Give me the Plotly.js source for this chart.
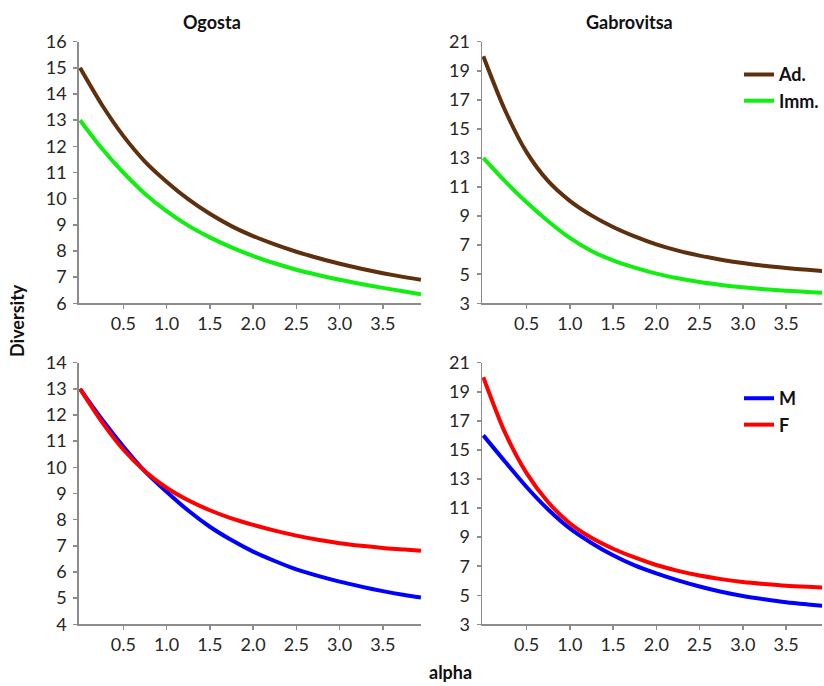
<!DOCTYPE html>
<html>
<head>
<meta charset="utf-8">
<script src="https://cdn.plot.ly/plotly-3.0.1.min.js"></script>
<style>html,body{margin:0;padding:0;background:#fff;}#chart{width:824px;height:686px;}</style>
</head>
<body>
<div id="chart"></div>
<script>
// alpha values (x)
const alpha = [0, 0.25, 0.5, 0.75, 1, 1.25, 1.5, 1.75, 2, 2.25, 2.5, 2.75, 3, 3.25, 3.5, 3.75, 3.94];
const xTickVals = [0.5, 1.0, 1.5, 2.0, 2.5, 3.0, 3.5];

// Ogosta: adults / immatures
const ogostaAd  = [15.0, 13.6, 12.4, 11.42, 10.65, 9.98, 9.42, 8.95, 8.57, 8.25, 7.97, 7.73, 7.51, 7.32, 7.15, 7.0, 6.9];
const ogostaImm = [13.0, 11.93, 11.0, 10.19, 9.52, 8.97, 8.52, 8.14, 7.81, 7.53, 7.28, 7.08, 6.9, 6.74, 6.59, 6.45, 6.34];
// Gabrovitsa: adults / immatures
const gabAd  = [20.0, 16.3, 13.4, 11.4, 10.05, 9.05, 8.25, 7.6, 7.05, 6.62, 6.28, 6.0, 5.77, 5.58, 5.43, 5.3, 5.21];
const gabImm = [13.0, 11.4, 9.95, 8.65, 7.5, 6.6, 5.95, 5.45, 5.04, 4.72, 4.46, 4.26, 4.1, 3.97, 3.87, 3.78, 3.72];
// Ogosta: males / females
const ogostaM = [13.0, 11.85, 10.8, 9.85, 9.07, 8.35, 7.73, 7.22, 6.78, 6.42, 6.1, 5.85, 5.63, 5.44, 5.27, 5.12, 5.02];
const ogostaF = [13.0, 11.75, 10.68, 9.85, 9.22, 8.74, 8.36, 8.05, 7.8, 7.58, 7.39, 7.23, 7.1, 7.0, 6.92, 6.86, 6.81];
// Gabrovitsa: males / females
const gabM = [16.0, 14.2, 12.45, 10.9, 9.6, 8.6, 7.75, 7.05, 6.5, 6.02, 5.6, 5.24, 4.95, 4.72, 4.52, 4.37, 4.27];
const gabF = [20.0, 16.2, 13.4, 11.4, 9.95, 8.95, 8.2, 7.6, 7.08, 6.68, 6.36, 6.11, 5.92, 5.78, 5.66, 5.58, 5.53];

const cBrown = '#5E300E', cGreen = '#12EE12', cBlue = '#0000FF', cRed = '#FF0000';

function tr(y, color, name, xa, ya, legend, show) {
  return {x: alpha, y: y, type: 'scatter', mode: 'lines', name: name,
    line: {color: color, width: 4, shape: 'spline', smoothing: 0.8},
    xaxis: xa, yaxis: ya, legend: legend, showlegend: show, hoverinfo: 'x+y'};
}

const data = [
  tr(ogostaAd, cBrown, 'Ad.', 'x', 'y', 'legend', false),
  tr(ogostaImm, cGreen, 'Imm.', 'x', 'y', 'legend', false),
  tr(gabAd, cBrown, 'Ad.', 'x2', 'y2', 'legend', true),
  tr(gabImm, cGreen, 'Imm.', 'x2', 'y2', 'legend', true),
  tr(ogostaM, cBlue, 'M', 'x3', 'y3', 'legend2', false),
  tr(ogostaF, cRed, 'F', 'x3', 'y3', 'legend2', false),
  tr(gabM, cBlue, 'M', 'x4', 'y4', 'legend2', true),
  tr(gabF, cRed, 'F', 'x4', 'y4', 'legend2', true)
];

const axisCommon = {
  showline: true, linecolor: '#8c8c8c', linewidth: 1.5,
  ticks: 'outside', ticklen: 4, tickcolor: '#8c8c8c', tickwidth: 1.5,
  showgrid: false, zeroline: false, fixedrange: true,
  tickfont: {family: 'Lato, sans-serif', size: 18, color: '#262626'}
};
function xa(domain, range, anchor) {
  return Object.assign({}, axisCommon, {domain: domain, range: range, anchor: anchor,
    tickmode: 'array', tickvals: xTickVals, ticktext: xTickVals.map(v => v.toFixed(1)),
    ticklabelstandoff: 0});
}
function ya(domain, range, dtick, anchor) {
  return Object.assign({}, axisCommon, {domain: domain, range: range, anchor: anchor,
    tickmode: 'linear', tick0: range[0], dtick: dtick, ticklabelstandoff: 3});
}

const topDom = [0.5579, 0.9392], botDom = [0.0899, 0.4713];
const leftDom = [0.0959, 0.5121], rightDom = [0.5865, 1.0];

const boldFont = {family: 'Lato, sans-serif', size: 18, color: '#111', weight: 'bold'};

const layout = {
  width: 824, height: 686,
  margin: {l: 0, r: 0, t: 0, b: 0},
  paper_bgcolor: '#ffffff', plot_bgcolor: '#ffffff',
  font: {family: 'Lato, sans-serif', color: '#222'},
  xaxis: xa(leftDom, [-0.014, 3.94], 'y'),
  yaxis: ya(topDom, [6, 16], 1, 'x'),
  xaxis2: xa(rightDom, [-0.014, 3.916], 'y2'),
  yaxis2: ya(topDom, [3, 21], 2, 'x2'),
  xaxis3: xa(leftDom, [-0.014, 3.94], 'y3'),
  yaxis3: ya(botDom, [4, 14], 1, 'x3'),
  xaxis4: xa(rightDom, [-0.014, 3.916], 'y4'),
  yaxis4: ya(botDom, [3, 21], 2, 'x4'),
  legend: {x: 0.899, y: 0.918, xanchor: 'left', yanchor: 'top', bgcolor: 'rgba(0,0,0,0)',
    font: boldFont, traceorder: 'normal', itemwidth: 30},
  legend2: {x: 0.899, y: 0.446, xanchor: 'left', yanchor: 'top', bgcolor: 'rgba(0,0,0,0)',
    font: boldFont, traceorder: 'normal', itemwidth: 30},
  annotations: [
    {text: 'Ogosta', x: 0.2573, y: 0.9684, xref: 'paper', yref: 'paper', showarrow: false,
      xanchor: 'center', yanchor: 'middle', font: boldFont},
    {text: 'Gabrovitsa', x: 0.7658, y: 0.9684, xref: 'paper', yref: 'paper', showarrow: false,
      xanchor: 'center', yanchor: 'middle', font: boldFont},
    {text: 'Diversity', x: 0.0206, y: 0.5335, xref: 'paper', yref: 'paper', showarrow: false,
      textangle: -90, xanchor: 'center', yanchor: 'middle', font: boldFont},
    {text: 'alpha', x: 0.5485, y: 0.02, xref: 'paper', yref: 'paper', showarrow: false,
      xanchor: 'center', yanchor: 'middle', font: boldFont}
  ]
};

Plotly.newPlot('chart', data, layout, {displayModeBar: false, staticPlot: true});
</script>
</body>
</html>
